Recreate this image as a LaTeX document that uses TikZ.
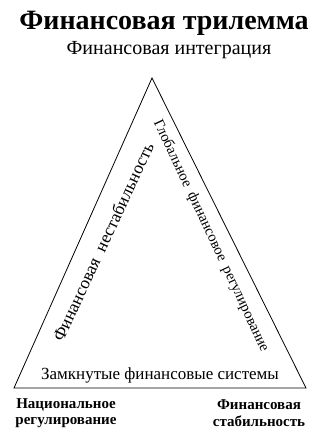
\documentclass[tikz,border=0pt]{standalone}
\usepackage{fontspec}
\setmainfont{Liberation Serif}
\begin{document}
\begin{tikzpicture}[x=1pt,y=-1pt,
  edge/.style={draw=black,line width=0.8pt,line join=miter},
  title/.style={font=\fontsize{28}{32}\selectfont\bfseries,inner sep=0pt,anchor=center},
  sub/.style={font=\fontsize{20}{23}\selectfont,inner sep=0pt},
  bot/.style={font=\fontsize{17}{20}\selectfont,inner sep=0pt},
  sidel/.style={font=\fontsize{17.5}{20}\selectfont,inner sep=0pt},
  sider/.style={font=\fontsize{14.7}{17}\selectfont,inner sep=0pt},
  corner/.style={font=\fontsize{15}{16.5}\selectfont\bfseries,inner sep=0pt,align=center}]
\useasboundingbox (0,0) rectangle (322,429);
\node[title] (t) at (164,23) {Финансовая трилемма};
\node[sub] (s) at (169,50) {Финансовая интеграция};
\coordinate (A) at (152,78);
\coordinate (B) at (14,388);
\coordinate (C) at (306,388);
\draw[edge] (A) -- (B) -- (C) -- cycle;
\node[sidel,rotate=65] (l) at (103,242) {Финансовая\ \ нестабильность};
\node[sider,rotate=-64.8] (r) at (211,236) {Глобальное\ \ финансовое\ \ регулирование};
\node[bot] (b) at (160,375) {Замкнутые финансовые системы};
\node[corner] (nl) at (66,413) {Национальное\\регулирование};
\node[corner] (nr) at (259,413) {Финансовая\\стабильность};
\end{tikzpicture}
\end{document}
